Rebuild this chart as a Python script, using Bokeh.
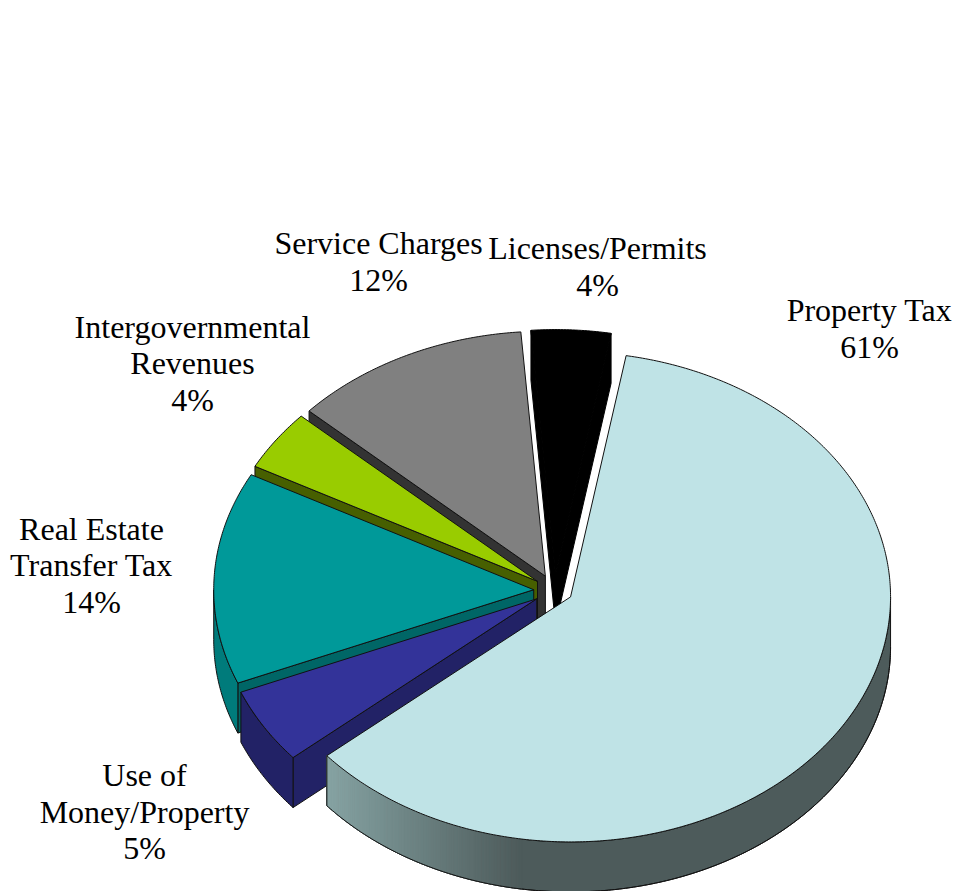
import numpy as np
from bokeh.plotting import figure
from bokeh.models import Range1d
from bokeh.core.properties import value
from bokeh.embed import file_html
from bokeh.resources import INLINE

# ---- data
categories = ["Property Tax", "Use of Money/Property", "Real Estate Transfer Tax",
              "Intergovernmental Revenues", "Service Charges", "Licenses/Permits"]
shares = [61, 5, 14, 4, 12, 4]
label_lines = [["Property Tax", "61%"],
               ["Use of", "Money/Property", "5%"],
               ["Real Estate", "Transfer Tax", "14%"],
               ["Intergovernmental", "Revenues", "4%"],
               ["Service Charges", "12%"],
               ["Licenses/Permits", "4%"]]
top_colors = ["#BFE3E6", "#333399", "#009999", "#99CC00", "#808080", "#000000"]
side_colors = ["#4D5B5B", "#222266", "#006666", "#475F00", "#333333", "#000000"]
rim_colors = ["#4D5B5B", "#222266", "#007B7B", "#475F00", "#333333", "#000000"]
edge_colors = ["#111111", "#111111", "#111111", "#111111", "#111111", "#000000"]

# ---- layout (page pixels)
CX, CY = 554.0, 590.0
RX, RY = 320.0, 245.0
DEPTH = 50.0
EXPLODE = 0.065
START = 10.0
nudge = [(-2, -1.5), (0, 0), (0, 0), (0, 0), (0, 0), (0, 0)]
label_pos = [(869, [309, 346]), (144, [774, 811, 847]), (91, [528, 564, 601]),
             (192, [326, 362, 399]), (378, [242, 279]), (597, [247, 284])]

p = figure(width=955, height=891, x_range=Range1d(0, 955), y_range=Range1d(891, 0),
           output_backend="svg", toolbar_location=None, min_border=0,
           background_fill_color="white", border_fill_color="white", outline_line_color=None)
p.axis.visible = False
p.grid.visible = False


def rim(t, ax, ay):
    r = np.radians(t)
    return ax + RX * np.sin(r), ay - RY * np.cos(r)


def lerp_hex(a, b, f):
    ca = [int(a[i:i + 2], 16) for i in (1, 3, 5)]
    cb = [int(b[i:i + 2], 16) for i in (1, 3, 5)]
    return "#%02X%02X%02X" % tuple(int(round(x + (y - x) * f)) for x, y in zip(ca, cb))


edges = START + np.cumsum([0] + [s * 3.6 for s in shares])

# painter's order: back slices first, the large front slice last
for i in [5, 4, 3, 2, 1, 0]:
    LINE = dict(line_color=edge_colors[i], line_width=1)
    t0, t1 = edges[i], edges[i + 1]
    mid = np.radians((t0 + t1) / 2)
    ax = CX + EXPLODE * RX * np.sin(mid) + nudge[i][0]
    ay = CY - EXPLODE * RY * np.cos(mid) + nudge[i][1]
    ts = np.linspace(t0, t1, max(int(t1 - t0) * 2, 8))

    # radial side walls, only those facing the viewer
    for t, normal in ((t0, t0 - 90), (t1, t1 + 90)):
        if np.cos(np.radians(normal)) < 0:
            x, y = rim(t, ax, ay)
            p.patch([ax, x, x, ax], [ay, y, y + DEPTH, ay + DEPTH],
                    fill_color=side_colors[i], **LINE)

    # outer wall (front facing part of the rim: 90..270 degrees)
    lo, hi = max(t0, 90), min(t1, 270)
    if hi > lo:
        tw = np.linspace(lo, hi, max(int(hi - lo) * 2, 8))
        xt, yt = rim(tw, ax, ay)
        p.patch(np.r_[xt, xt[::-1]], np.r_[yt, (yt + DEPTH)[::-1]],
                fill_color=rim_colors[i], **LINE)
        if i == 0:
            # shading gets lighter toward the left end of the wall
            for k in range(len(tw) - 1):
                xm = (xt[k] + xt[k + 1]) / 2
                if xm < 520:
                    f = np.clip((520 - xm) / (520 - 327), 0, 1)
                    c = lerp_hex("#4D5B5B", "#86A3A3", f)
                    p.patch([xt[k], xt[k + 1], xt[k + 1], xt[k]],
                            [yt[k], yt[k + 1], yt[k + 1] + DEPTH, yt[k] + DEPTH],
                            fill_color=c, line_color=c, line_width=1)
            p.line(xt, yt + DEPTH, **LINE)
            p.line([xt[-1], xt[-1]], [yt[-1], yt[-1] + DEPTH], **LINE)

    # top face
    xs, ys = rim(ts, ax, ay)
    p.patch(np.r_[ax, xs], np.r_[ay, ys], fill_color=top_colors[i], **LINE)

# labels
for lines, (lx, ly) in zip(label_lines, label_pos):
    p.text([lx] * len(lines), ly, text=lines, text_align="center", text_baseline="middle",
           text_font=value("Liberation Serif"), text_font_size="32px", text_color="black")

open("out.html", "w").write(file_html(p, INLINE))
